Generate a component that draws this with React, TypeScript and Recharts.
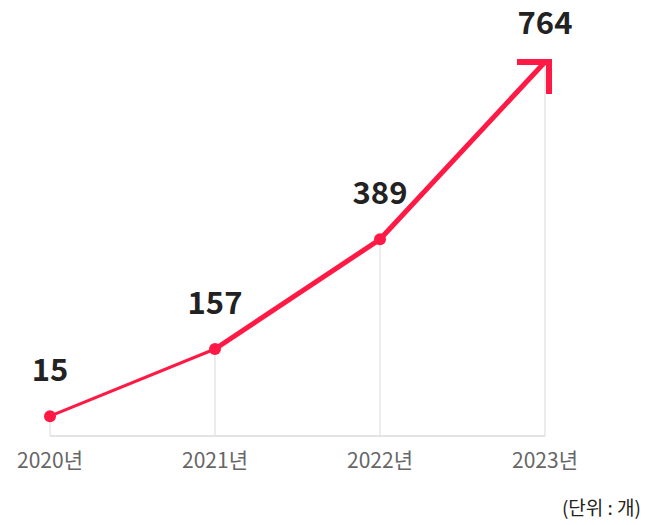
import React from 'react';
import { LineChart, Line, XAxis, YAxis, ReferenceLine } from 'recharts';

// chart values
const years = ['2020년', '2021년', '2022년', '2023년'];
const counts = [15, 157, 389, 764];
const unitLabel = '(단위 : 개)';

const RED = '#ff1a46';
const FONT = '"Noto Sans CJK KR", "Noto Sans", sans-serif';
const Y_MIN = -27;

// first segment is thin, rest is thick
const data = years.map((year, i) => ({
  year,
  value: counts[i],
  thin: i <= 1 ? counts[i] : null,
  thick: i >= 1 ? counts[i] : null,
}));

const YearTick = ({ x, y, payload }: any) => (
  <text x={x} y={y} dy={24} textAnchor="middle" fontSize={21} fill="#666" fontFamily={FONT}>
    {payload.value}
  </text>
);

const PointMark = (props: any) => {
  const { cx, cy, index, value } = props;
  if (cx == null || cy == null) return null;
  const last = index === counts.length - 1;
  return (
    <g key={`pt-${index}`}>
      {last ? (
        <path
          d={`M ${cx - 28} ${cy} L ${cx + 4} ${cy} L ${cx + 4} ${cy + 32}`}
          stroke={RED}
          strokeWidth={6}
          fill="none"
          strokeLinejoin="miter"
        />
      ) : (
        <circle cx={cx} cy={cy} r={6} fill={RED} />
      )}
      <text
        x={cx}
        y={last ? cy - 28 : cy - 35}
        textAnchor="middle"
        fontSize={31}
        fontWeight={700}
        fill="#222"
        fontFamily={FONT}
      >
        {value}
      </text>
    </g>
  );
};

export default function App() {
  return (
    <div style={{ position: 'absolute', left: 0, top: 0, width: 650, height: 525, background: '#fff' }}>
      <LineChart width={650} height={525} data={data} margin={{ top: 62, right: 105, left: 50, bottom: 49 }}>
        <XAxis
          dataKey="year"
          height={40}
          interval={0}
          tickLine={false}
          axisLine={{ stroke: '#e3e3e3', strokeWidth: 2 }}
          tick={<YearTick />}
        />
        <YAxis hide domain={[Y_MIN, 764]} type="number" />
        {years.map((year, i) => (
          <ReferenceLine
            key={year}
            segment={[{ x: year, y: counts[i] }, { x: year, y: Y_MIN }]}
            stroke="#e6e6e6"
            strokeWidth={1.5}
            ifOverflow="visible"
          />
        ))}
        <Line dataKey="thin" stroke={RED} strokeWidth={3} dot={false} isAnimationActive={false} />
        <Line dataKey="thick" stroke={RED} strokeWidth={5} dot={false} isAnimationActive={false} />
        <Line dataKey="value" stroke="none" dot={<PointMark />} activeDot={false} isAnimationActive={false} />
      </LineChart>
      <div
        style={{
          position: 'absolute',
          right: 9,
          top: 493,
          fontSize: 19,
          color: '#222',
          fontFamily: FONT,
        }}
      >
        {unitLabel}
      </div>
    </div>
  );
}
